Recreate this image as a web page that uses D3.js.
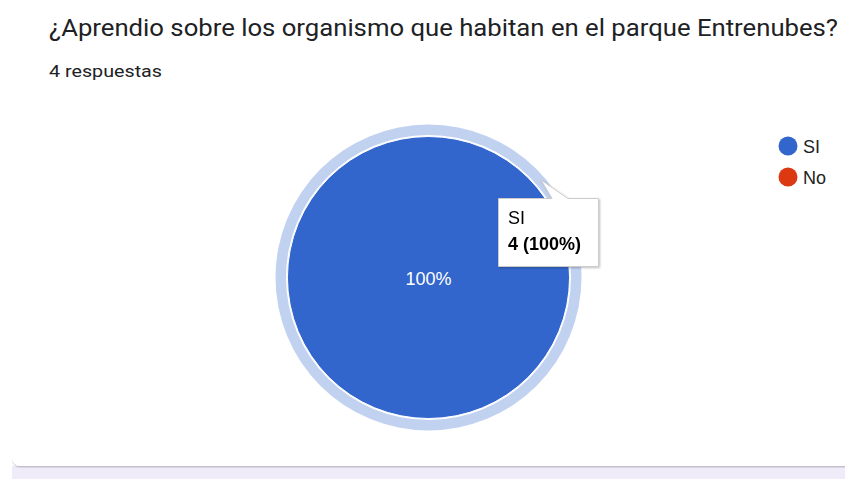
<!DOCTYPE html>
<html>
<head>
<meta charset="utf-8">
<script src="https://cdn.jsdelivr.net/npm/d3@7"></script>
<style>
  html, body { margin: 0; padding: 0; background: #fff; }
  svg { display: block; }
</style>
</head>
<body>
<script>
// chart data
var title = "¿Aprendio sobre los organismo que habitan en el parque Entrenubes?";
var subtitle = "4 respuestas";
var categories = ["SI", "No"];
var values = [4, 0];
var colors = ["#3366cc", "#dc3912"];

var width = 845, height = 479;
var svg = d3.select("body").append("svg")
  .attr("width", width)
  .attr("height", height);

var defs = svg.append("defs");
var shadow = defs.append("filter").attr("id", "tipShadow")
  .attr("x", "-20%").attr("y", "-20%").attr("width", "140%").attr("height", "150%");
shadow.append("feDropShadow")
  .attr("dx", 1).attr("dy", 1).attr("stdDeviation", 1.2)
  .attr("flood-color", "#000").attr("flood-opacity", 0.25);

var cardShadow = defs.append("filter").attr("id", "cardShadow")
  .attr("x", "-5%").attr("y", "-5%").attr("width", "110%").attr("height", "110%");
cardShadow.append("feDropShadow")
  .attr("dx", 0).attr("dy", 1.5).attr("stdDeviation", 0.6)
  .attr("flood-color", "#3c4043").attr("flood-opacity", 0.25);

// page background + card
svg.append("rect").attr("x", 0).attr("y", 0).attr("width", width).attr("height", height).attr("fill", "#fff");
svg.append("rect").attr("x", 12).attr("y", 466).attr("width", width - 12).attr("height", 13).attr("fill", "#f0ebf8");
svg.append("rect")
  .attr("x", 12).attr("y", -20).attr("width", width + 20).attr("height", 486)
  .attr("rx", 8)
  .attr("fill", "#fff")
  .attr("filter", "url(#cardShadow)");

// titles
svg.append("text")
  .attr("x", 49).attr("y", 36)
  .attr("font-family", "Roboto, sans-serif")
  .attr("font-size", 24)
  .attr("fill", "#202124")
  .attr("textLength", 789)
  .attr("lengthAdjust", "spacingAndGlyphs")
  .text(title);

svg.append("text")
  .attr("x", 49).attr("y", 77)
  .attr("font-family", "Roboto, sans-serif")
  .attr("font-size", 17)
  .attr("fill", "#202124")
  .attr("textLength", 113)
  .attr("lengthAdjust", "spacingAndGlyphs")
  .text(subtitle);

// pie
var cx = 428.5, cy = 277.5, r = 141;
var total = d3.sum(values);
var pie = d3.pie().sort(null).value(function(d) { return d; });
var arcs = pie(values);
var arc = d3.arc().innerRadius(0).outerRadius(r);
var halo = d3.arc().innerRadius(r + 1.5).outerRadius(r + 12);

var g = svg.append("g").attr("transform", "translate(" + cx + "," + cy + ")");

g.selectAll("path.halo")
  .data(arcs.filter(function(d) { return d.value > 0; }))
  .enter().append("path")
  .attr("class", "halo")
  .attr("d", halo)
  .attr("fill", function(d) { return colors[d.index]; })
  .attr("fill-opacity", 0.3);

g.selectAll("path.slice")
  .data(arcs.filter(function(d) { return d.value > 0; }))
  .enter().append("path")
  .attr("class", "slice")
  .attr("d", arc)
  .attr("fill", function(d) { return colors[d.index]; })
  .attr("stroke", "#fff")
  .attr("stroke-width", 1);

var fmt = d3.format(".0%");
g.selectAll("text.pct")
  .data(arcs.filter(function(d) { return d.value > 0; }))
  .enter().append("text")
  .attr("class", "pct")
  .attr("x", function(d) { return (d.endAngle - d.startAngle) >= 2 * Math.PI - 1e-6 ? 0 : arc.centroid(d)[0]; })
  .attr("y", function(d) { return ((d.endAngle - d.startAngle) >= 2 * Math.PI - 1e-6 ? 0 : arc.centroid(d)[1]) + 7; })
  .attr("text-anchor", "middle")
  .attr("font-family", "Arial, 'Liberation Sans', sans-serif")
  .attr("font-size", 18)
  .attr("fill", "#fff")
  .text(function(d) { return fmt(d.value / total); });

// legend
var legendY = d3.scalePoint().domain(categories).range([146, 177]);
var legend = svg.append("g").selectAll("g")
  .data(categories)
  .enter().append("g")
  .attr("transform", function(d) { return "translate(788," + legendY(d) + ")"; });
legend.append("circle")
  .attr("r", 9.5)
  .attr("fill", function(d, i) { return colors[i]; });
legend.append("text")
  .attr("x", 15).attr("y", 7)
  .attr("font-family", "Arial, 'Liberation Sans', sans-serif")
  .attr("font-size", 18)
  .attr("fill", "#222")
  .text(function(d) { return d; });

// tooltip for the hovered slice
var tip = svg.append("g").attr("filter", "url(#tipShadow)");
tip.append("path")
  .attr("d", "M498.5,198.5 H552 L541,180 L568,198.5 H598.5 V266.5 H498.5 Z")
  .attr("fill", "#fff")
  .attr("stroke", "#ccc")
  .attr("stroke-width", 1);
tip.append("text")
  .attr("x", 508).attr("y", 224)
  .attr("font-family", "Arial, 'Liberation Sans', sans-serif")
  .attr("font-size", 18)
  .attr("fill", "#000")
  .text(categories[0]);
tip.append("text")
  .attr("x", 508).attr("y", 250)
  .attr("font-family", "Arial, 'Liberation Sans', sans-serif")
  .attr("font-size", 18)
  .attr("font-weight", "bold")
  .attr("fill", "#000")
  .text(values[0] + " (" + fmt(values[0] / total) + ")");
</script>
</body>
</html>
